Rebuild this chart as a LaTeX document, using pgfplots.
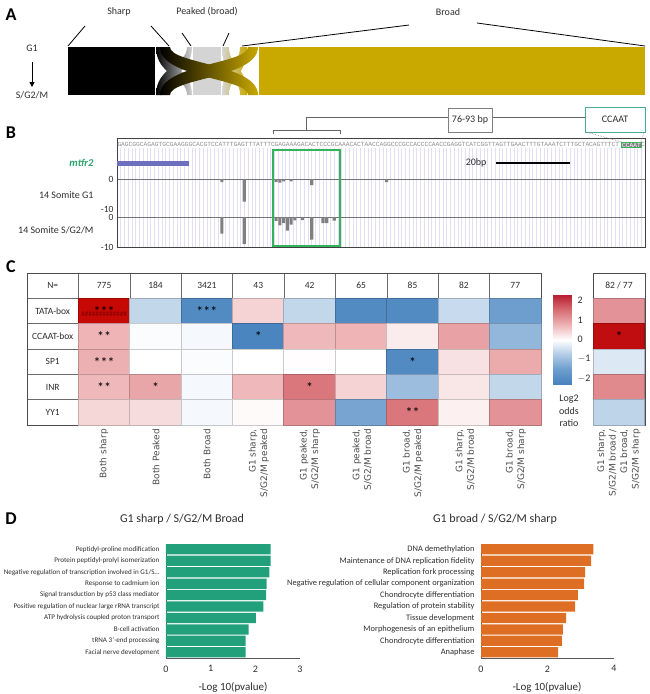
\documentclass[border=0pt]{standalone}
\usepackage{fontspec}
\setmainfont{Carlito}
\newfontfamily\dejavu{DejaVu Sans}
\newfontfamily\seqfont{Liberation Mono}
\usepackage{pgfplots}
\pgfplotsset{compat=1.18}
\usetikzlibrary{arrows.meta}
\definecolor{gold}{RGB}{201,168,0}
\definecolor{lgray}{RGB}{212,212,212}
\definecolor{dgreen}{RGB}{34,160,123}
\definecolor{dorange}{RGB}{222,110,35}
\definecolor{gridl}{RGB}{228,222,245}
\definecolor{txt}{RGB}{45,45,45}
\definecolor{boxgreen}{RGB}{50,180,90}
\definecolor{tealc}{RGB}{70,175,145}
\definecolor{mtf}{RGB}{40,165,105}
\definecolor{genebar}{RGB}{110,110,190}
\pgfplotsset{/pgf/number format/assume math mode=true,
 colormap={rdbuext}{rgb255(0pt)=(58,120,185) rgb255(3pt)=(110,158,205) rgb255(6pt)=(180,205,230) rgb255(9pt)=(255,255,255) rgb255(12pt)=(238,180,182) rgb255(15pt)=(215,110,115) rgb255(18pt)=(180,20,40) rgb255(20pt)=(200,8,0)},
 colormap={rdbu}{rgb255(0pt)=(70,130,190) rgb255(3pt)=(110,158,205) rgb255(6pt)=(180,205,230) rgb255(9pt)=(255,255,255) rgb255(12pt)=(238,180,182) rgb255(15pt)=(215,110,115) rgb255(18pt)=(185,30,50)},
}
\begin{document}
\begin{tikzpicture}
\useasboundingbox (0pt,0pt) rectangle (650pt,-694pt);

% ---------------- Panel A (Sankey) ----------------
\begin{axis}[at={(0pt,0pt)},anchor=north west,scale only axis,width=650pt,height=120pt,
  xmin=0,xmax=650,ymin=0,ymax=120,y dir=reverse,hide axis,clip=false]
\addplot[fill=black,draw=none] coordinates {(68,47) (155,47) (155,95) (68,95)} --cycle;
\addplot[fill=lgray,draw=none] coordinates {(193,47) (221,47) (221,95) (193,95)} --cycle;
\addplot[fill=gold,draw=none] coordinates {(259,47) (645,47) (645,95) (259,95)} --cycle;
\shade[left color=lgray,right color=gold] (axis cs:222,47) .. controls (axis cs:222,76) and (axis cs:240,76) .. (axis cs:240,95) -- (axis cs:247,95) .. controls (axis cs:247,66) and (axis cs:229,66) .. (axis cs:229,47) -- cycle;
\shade[left color=lgray,right color=gold] (axis cs:247,47) .. controls (axis cs:247,76) and (axis cs:229,76) .. (axis cs:229,95) -- (axis cs:222,95) .. controls (axis cs:222,66) and (axis cs:240,66) .. (axis cs:240,47) -- cycle;
\shade[left color=black,right color=lgray] (axis cs:156,47) .. controls (axis cs:156,76) and (axis cs:187,76) .. (axis cs:187,95) -- (axis cs:192,95) .. controls (axis cs:192,66) and (axis cs:161,66) .. (axis cs:161,47) -- cycle;
\shade[left color=black,right color=lgray] (axis cs:192,47) .. controls (axis cs:192,76) and (axis cs:161,76) .. (axis cs:161,95) -- (axis cs:156,95) .. controls (axis cs:156,66) and (axis cs:187,66) .. (axis cs:187,47) -- cycle;
\shade[left color=black,right color=gold] (axis cs:160,47) .. controls (axis cs:160,78) and (axis cs:248,78) .. (axis cs:248,95) -- (axis cs:258,95) .. controls (axis cs:258,64) and (axis cs:170,64) .. (axis cs:170,47) -- cycle;
\shade[left color=black,right color=gold] (axis cs:258,47) .. controls (axis cs:258,78) and (axis cs:170,78) .. (axis cs:170,95) -- (axis cs:160,95) .. controls (axis cs:160,64) and (axis cs:248,64) .. (axis cs:248,47) -- cycle;
\draw[line width=0.8pt] (axis cs:85,26) -- (axis cs:68,46);
\draw[line width=0.8pt] (axis cs:151,26) -- (axis cs:169,46);
\draw[line width=0.8pt] (axis cs:182,33) -- (axis cs:191,46);
\draw[line width=0.8pt] (axis cs:229,33) -- (axis cs:223,46);
\draw[line width=0.8pt] (axis cs:409,25) -- (axis cs:242,46);
\draw[line width=0.8pt] (axis cs:477,23) -- (axis cs:645,46);
\end{axis}

% ---------------- Panel B (genome track) ----------------
\begin{axis}[at={(117pt,-247pt)},anchor=south west,scale only axis,width=528pt,height=99pt,
  xmin=0,xmax=141,ymin=0,ymax=1,xtick={0,...,141},ytick=\empty,xticklabels={},
  major tick length=0pt,xmajorgrids,major grid style={draw=gridl,line width=0.5pt},
  axis line style={draw=none}]
\end{axis}
\begin{axis}[at={(117pt,-179pt)},anchor=north west,scale only axis,width=528pt,height=30pt,
  xmin=0,xmax=141,ymin=-10,ymax=0,axis line style={draw=none},major tick length=0pt,
  xtick=\empty,ytick={-10,0},yticklabels={-10,0},
  yticklabel style={font=\fontsize{9.5}{11}\selectfont,text=txt},
  ybar,bar width=0.85,clip=false]
\draw[black!55,line width=0.6pt] (axis cs:0,0) -- (axis cs:141,0);
\addplot[fill=black!50,draw=none] coordinates {(6,-0.3) (28,-1) (34,-7.5) (42.5,-1) (43.5,-1.2) (44.5,-0.8) (46.5,-0.8) (52,-2) (55,-0.3) (72,-1)};
\end{axis}
\begin{axis}[at={(117pt,-217pt)},anchor=north west,scale only axis,width=528pt,height=30pt,
  xmin=0,xmax=141,ymin=-10,ymax=0,axis line style={draw=none},major tick length=0pt,
  xtick=\empty,ytick={-10,0},yticklabels={-10,0},
  yticklabel style={font=\fontsize{9.5}{11}\selectfont,text=txt},
  ybar,bar width=0.85,clip=false]
\draw[black!55,line width=0.6pt] (axis cs:0,0) -- (axis cs:141,0);
\addplot[fill=black!50,draw=none] coordinates {(11,-0.3) (26,-0.3) (28,-5.5) (34,-9) (42.5,-1.3) (43.5,-2.8) (44.5,-2) (45.5,-4.5) (46.5,-2.5) (47.5,-1.1) (49.5,-1) (52,-7.5) (55,-2) (56,-2) (58,-1.2)};
\end{axis}

% ---------------- Panel C (heatmap) ----------------
\begin{axis}[at={(27pt,-273pt)},anchor=north west,scale only axis,width=514pt,height=152pt,
  xmin=-0.5,xmax=9.5,ymin=-0.5,ymax=5.5,y dir=reverse,
  xtick={-0.5,0.5,...,9.5},ytick={-0.5,0.5,...,5.5},xticklabels={},yticklabels={},
  major tick length=0pt,grid=major,major grid style={draw=black!58,line width=0.6pt},
  axis line style={draw=black!70,line width=0.7pt},axis on top,clip=false,
  colormap name=rdbuext,point meta min=-2.25,point meta max=2.75]
\addplot[scatter,only marks,mark=square*,mark size=12.67pt,mark options={xscale=2.03,line width=0pt},point meta=explicit]
table[meta=c]{
x y c
1 1 2.7
2 1 -0.6
3 1 -1.9
4 1 0.45
5 1 -0.6
6 1 -1.9
7 1 -1.9
8 1 -0.55
9 1 -1.5
1 2 0.75
2 2 -0.05
3 2 -0.1
4 2 -2.0
5 2 0.7
6 2 0.75
7 2 0.2
8 2 0.95
9 2 -1.1
1 3 0.8
2 3 0.0
3 3 -0.05
4 3 0.0
5 3 0.02
6 3 0.0
7 3 -1.9
8 3 0.3
9 3 0.85
1 4 0.7
2 4 0.9
3 4 -0.1
4 4 0.7
5 4 1.4
6 4 0.45
7 4 -1.0
8 4 0.25
9 4 -0.6
1 5 0.4
2 5 0.35
3 5 -0.1
4 5 0.05
5 5 1.1
6 5 -1.4
7 5 1.4
8 5 0.15
9 5 1.1
};
\end{axis}
\begin{axis}[at={(593pt,-273pt)},anchor=north west,scale only axis,width=52pt,height=152pt,
  xmin=-0.5,xmax=0.5,ymin=-0.5,ymax=5.5,y dir=reverse,
  xtick={-0.5,0.5},ytick={-0.5,0.5,...,5.5},xticklabels={},yticklabels={},
  major tick length=0pt,grid=major,major grid style={draw=black!58,line width=0.6pt},
  axis line style={draw=black!70,line width=0.7pt},axis on top,clip=false,
  colormap name=rdbuext,point meta min=-2.25,point meta max=2.75]
\addplot[scatter,only marks,mark=square*,mark size=12.67pt,mark options={xscale=2.05,line width=0pt},point meta=explicit]
table[meta=c]{
x y c
0 1 1.1
0 2 2.55
0 3 -0.35
0 4 1.2
0 5 -0.65
};
\end{axis}
% colorbar
\begin{axis}[at={(553pt,-295pt)},anchor=north west,scale only axis,width=18pt,height=89pt,
  xmin=0,xmax=1,ymin=-2.25,ymax=2.25,hide axis,view={0}{90},
  colormap name=rdbu,point meta min=-2.25,point meta max=2.25]
\addplot3[surf,shader=interp,mesh/cols=2,mesh/rows=7,point meta=y] coordinates {
(0,-2.25,0) (1,-2.25,0)
(0,-1.5,0) (1,-1.5,0)
(0,-0.75,0) (1,-0.75,0)
(0,0,0) (1,0,0)
(0,0.75,0) (1,0.75,0)
(0,1.5,0) (1,1.5,0)
(0,2.25,0) (1,2.25,0)
};
\end{axis}

% ---------------- Panel D (bars) ----------------
\begin{axis}[at={(166pt,-543.6pt)},anchor=north west,scale only axis,width=134pt,height=114.4pt,
  xmin=0,xmax=3,ymin=-0.5,ymax=9.5,y dir=reverse,xbar,bar width=0.9,
  axis x line*=bottom,axis y line*=left,axis line style={black!65,line width=0.8pt},
  major tick length=0pt,xtick={0,1,2,3},ytick={0,...,9},
  yticklabels={{Peptidyl-proline modification},{Protein peptidyl-prolyl isomerization},{Negative regulation of transcription involved in G1/S\ldots},{Response to cadmium ion},{Signal transduction by p53 class mediator},{Positive regulation of nuclear large rRNA transcript},{ATP hydrolysis coupled proton transport},{B-cell activation},{tRNA 3'-end processing},{Facial nerve development}},
  yticklabel style={font=\fontsize{7.1}{8.5}\selectfont,text=txt,xshift=-3pt},
  xticklabel style={font=\fontsize{10}{12}\selectfont,text=txt,yshift=-4pt}]
\addplot[fill=dgreen,draw=none] coordinates {(2.345,0) (2.345,1) (2.315,2) (2.255,3) (2.24,4) (2.18,5) (2.01,6) (1.85,7) (1.78,8) (1.78,9)};
\end{axis}
\begin{axis}[at={(481pt,-543.6pt)},anchor=north west,scale only axis,width=133pt,height=114.4pt,
  xmin=0,xmax=4,ymin=-0.5,ymax=9.5,y dir=reverse,xbar,bar width=0.9,
  axis x line*=bottom,axis y line*=left,axis line style={black!65,line width=0.8pt},
  major tick length=0pt,xtick={0,2,4},ytick={0,...,9},
  yticklabels={{DNA demethylation},{Maintenance of DNA replication fidelity},{Replication fork processing},{Negative regulation of cellular component organization},{Chondrocyte differentiation},{Regulation of protein stability},{Tissue development},{Morphogenesis of an epithelium},{Chondrocyte differentiation},{Anaphase}},
  yticklabel style={font=\fontsize{8.4}{9.5}\selectfont,text=txt,xshift=-3pt},
  xticklabel style={font=\fontsize{10}{12}\selectfont,text=txt,yshift=-4pt}]
\addplot[fill=dorange,draw=none] coordinates {(3.38,0) (3.31,1) (3.13,2) (3.10,3) (2.91,4) (2.83,5) (2.56,6) (2.46,7) (2.43,8) (2.32,9)};
\end{axis}

% ---------------- free text and frames (pixel coordinates) ----------------
\begin{scope}[x=1pt,y=-1pt]
\begin{scope}[font=\bfseries\fontsize{18}{20}\selectfont]
\node at (11,15) {A};
\node at (11,133) {B};
\node at (11,267) {C};
\node at (11,519) {D};
\end{scope}
\begin{scope}[font=\fontsize{10}{12}\selectfont,text=txt]
\node at (119,12) {Sharp};
\node at (207,12) {Peaked (broad)};
\node at (448,12) {Broad};
\node at (32,48) {G1};
\node at (32,95) {S/G2/M};
\end{scope}
\draw[-{Triangle[length=5pt,width=5pt]},line width=1pt] (32,62) -- (32,87);
\draw[black!75,line width=0.7pt] (117,138) rectangle (645,247);
\node[anchor=west,inner sep=0,font=\seqfont\fontsize{6.24}{7}\selectfont,text=black!45] at (117.3,144.5) {GAGCGGCAGAGTGCGAAGGGCACGTCCATTTGAGTTTATTTCGAGAAAGACACTCCCGCAAACACTAACCAGGCCCGCCACCCCAACCGAGGTCATCGGTTAGTTGAACTTTGTAAATCTTTGCTACAGTTTCT};
\node[fill=black!50,draw=boxgreen,line width=0.8pt,inner sep=0.6pt,font=\seqfont\fontsize{6.24}{7}\selectfont,text=white] at (631.5,145) {CCAAT};
\node[inner sep=0,font=\seqfont\fontsize{6.24}{7}\selectfont,text=black!45] at (643,144.5) {C};
\draw[boxgreen,line width=1.2pt] (273,150) rectangle (340,246);
\fill[genebar] (117,161) rectangle (189,166);
\node[anchor=east,font=\bfseries\itshape\fontsize{10.5}{12}\selectfont,text=mtf] at (97,163) {mtfr2};
\node[anchor=east,font=\fontsize{10}{12}\selectfont,text=txt] at (490,163) {20bp};
\draw[line width=2.5pt] (496,163) -- (570,163);
\node[anchor=east,font=\fontsize{10}{12}\selectfont,text=txt] at (97,195) {14 Somite G1};
\node[anchor=east,font=\fontsize{10}{12}\selectfont,text=txt] at (97,230) {14 Somite S/G2/M};
\draw[black!60,line width=0.6pt] (273,134) -- (273,130) -- (340,130) -- (340,134);
\draw[black!60,line width=0.6pt] (306,130) -- (306,117) -- (448,117);
\draw[black!60,line width=0.6pt] (492,117) -- (585,117);
\node[draw=black!50,line width=0.6pt,minimum width=44pt,minimum height=24pt,inner sep=0,fill=white,font=\fontsize{10}{12}\selectfont,text=txt] at (470,120) {76-93 bp};
\node[draw=tealc,line width=0.9pt,minimum width=60pt,minimum height=25pt,inner sep=0,fill=white,font=\fontsize{10}{12}\selectfont,text=txt] at (615,119.5) {CCAAT};
\draw[black!50,densely dotted,line width=0.6pt] (586,132) -- (622,142);
\draw[black!50,densely dotted,line width=0.6pt] (644,132) -- (641,142);
% heatmap texts
\begin{scope}[font=\fontsize{9.5}{11}\selectfont,text=txt]
\node at (52.7,285.7) {N=};
\node at (104.1,285.7) {775};
\node at (155.5,285.7) {184};
\node at (206.9,285.7) {3421};
\node at (258.3,285.7) {43};
\node at (309.7,285.7) {42};
\node at (361.1,285.7) {65};
\node at (412.5,285.7) {85};
\node at (463.9,285.7) {82};
\node at (515.3,285.7) {77};
\node at (619,285.7) {82 / 77};
\node at (52.7,311) {TATA-box};
\node at (52.7,336.3) {CCAAT-box};
\node at (52.7,361.7) {SP1};
\node at (52.7,387) {INR};
\node at (52.7,412.3) {YY1};
\end{scope}
\node[text=black!50!red,font=\fontsize{7}{8}\selectfont,inner sep=0] at (104.1,314) {\#\#\#\#\#\#\#\#\#\#\#\#\#};
\begin{scope}[font=\fontsize{14}{15}\selectfont,text=black,inner sep=0]
\node at (104.1,311.5) {***};
\node at (206.9,311.5) {***};
\node at (104.1,336.8) {**};
\node at (258.3,336.8) {*};
\node at (104.1,362.2) {***};
\node at (412.5,362.2) {*};
\node at (104.1,387.5) {**};
\node at (155.5,387.5) {*};
\node at (309.7,387.5) {*};
\node at (412.5,412.8) {**};
\node at (619,336.8) {*};
\end{scope}
\begin{scope}[font=\dejavu\fontsize{9}{11.5}\selectfont,text=black!70]
\node[rotate=90,anchor=east,align=right,inner sep=0] at (104,429) {Both sharp};
\node[rotate=90,anchor=east,align=right,inner sep=0] at (156,429) {Both Peaked};
\node[rotate=90,anchor=east,align=right,inner sep=0] at (207,429) {Both Broad};
\node[rotate=90,anchor=east,align=right,inner sep=0] at (259,429) {G1 sharp,\\S/G2/M peaked};
\node[rotate=90,anchor=east,align=right,inner sep=0] at (310,429) {G1 peaked,\\S/G2/M sharp};
\node[rotate=90,anchor=east,align=right,inner sep=0] at (362,429) {G1 peaked,\\S/G2/M broad};
\node[rotate=90,anchor=east,align=right,inner sep=0] at (413,429) {G1 broad,\\S/G2/M peaked};
\node[rotate=90,anchor=east,align=right,inner sep=0] at (465,429) {G1 sharp,\\S/G2/M broad};
\node[rotate=90,anchor=east,align=right,inner sep=0] at (516,429) {G1 broad,\\S/G2/M sharp};
\node[rotate=90,anchor=east,align=right,inner sep=0] at (619,429) {G1 sharp,\\S/G2/M broad /\\G1 broad,\\S/G2/M sharp};
\end{scope}
\begin{scope}[font=\fontsize{10}{12}\selectfont,text=txt]
\node[anchor=west] at (574,300) {2};
\node[anchor=west] at (574,320) {1};
\node[anchor=west] at (574,339.5) {0};
\node[anchor=west] at (574,359) {$-$1};
\node[anchor=west] at (574,379) {$-$2};
\node[align=center,font=\fontsize{10}{12.5}\selectfont] at (569,411) {Log2\\odds\\ratio};
\end{scope}
\node[font=\fontsize{12}{14}\selectfont,text=txt] at (182,519) {G1 sharp / S/G2/M Broad};
\node[font=\fontsize{12}{14}\selectfont,text=txt] at (495,519) {G1 broad / S/G2/M sharp};
\node[font=\fontsize{11}{13}\selectfont,text=txt] at (233,687) {-Log 10(pvalue)};
\node[font=\fontsize{11}{13}\selectfont,text=txt] at (547,687) {-Log 10(pvalue)};
\end{scope}
\end{tikzpicture}
\end{document}
